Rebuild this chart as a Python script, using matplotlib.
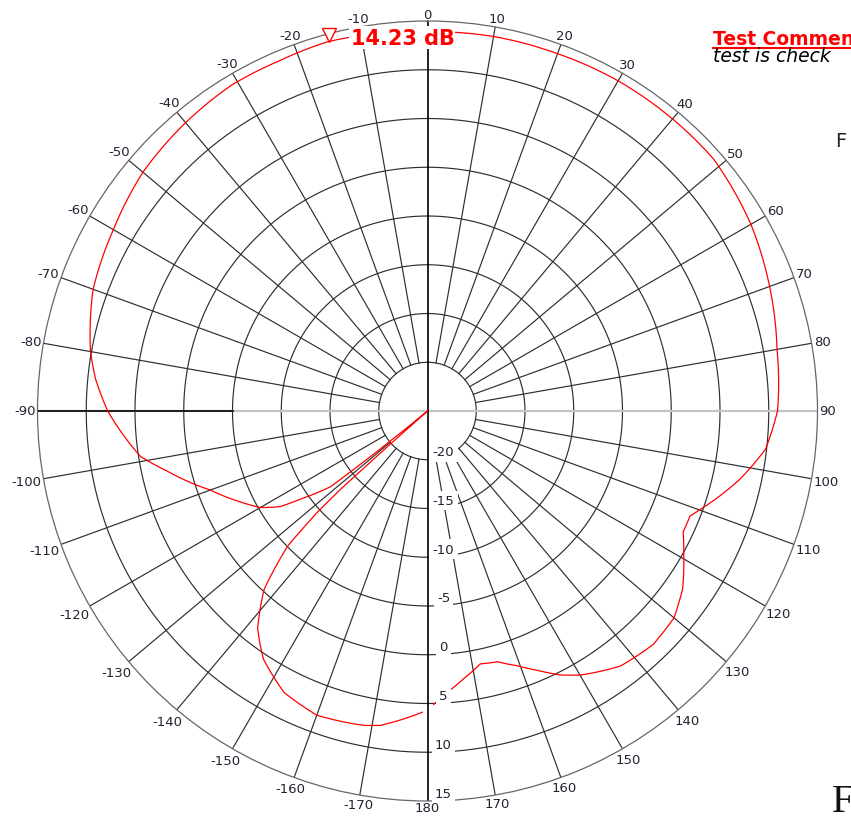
import numpy as np
import matplotlib
matplotlib.use("Agg")
import matplotlib.pyplot as plt
from matplotlib.transforms import offset_copy
from matplotlib.lines import Line2D

# ---------------- data ----------------
angles_deg = [-179, -171.5, -168.5, -160, -153, -146.5, -142, -137.5, -134, -132.6, -132,
              -131.5, -129.5, -128, -124.7, -123, -120, -116, -110, -103, -99, -93, -90,
              -84.5, -80, -70, -60, -50, -40, -31, -23, -15, -10, 0, 10, 20, 30,
              41.6, 48.6, 60, 70.4, 80, 90, 96.4, 102.3, 109.7, 111.8, 115.3, 119.5, 124.9,
              130, 136, 142.9, 149.9, 153.3, 157, 160.6, 164.4, 168.2, 172.3, 175.9, 178.8]
gain_db = [5.9, 7.6, 7.9, 8.2, 7.4, 5.5, 3.3, -0.2, -5.1, -9.7, -13.0,
           -30.0, -30.0, -12.4, -9.1, -7.0, -5.2, -3.7, -1.3, 2.4, 4.8, 6.8, 7.8,
           9.2, 10.1, 11.5, 12.2, 13.1, 13.6, 14.0, 14.0, 14.23, 14.1, 13.9, 14.0, 14.0, 14.1,
           14.1, 14.1, 13.3, 12.3, 11.4, 10.9, 9.9, 7.8, 4.8, 4.0, 4.0, 5.2, 6.9,
           8.0, 8.3, 7.8, 6.3, 5.3, 3.9, 2.7, 1.7, 1.5, 2.7, 3.9, 5.1]

angle_labels = list(range(-170, 0, 10)) + list(range(0, 181, 10))
radial_ticks = [-20, -15, -10, -5, 0, 5, 10, 15]
r_min, r_max = -25, 15
spoke_angles = list(range(0, 360, 10))

# ---------------- figure ----------------
W, H = 851, 820
fig = plt.figure(figsize=(W / 100, H / 100), dpi=100)
cx, cy, R = 427.5, 412, 390
ax = fig.add_axes([(cx - R) / W, (H - cy - R) / H, 2 * R / W, 2 * R / H], projection="polar")
ax.set_theta_zero_location("N")
ax.set_theta_direction(-1)
ax.set_ylim(r_min, r_max)
ax.grid(False)
ax.set_xticks([])
ax.set_yticks([])
ax.spines["polar"].set_color("#666666")
ax.spines["polar"].set_linewidth(0.9)

grid_c = "#2e2e2e"
th_full = np.linspace(0, 2 * np.pi, 721)
for rt in radial_ticks[:-1]:
    ax.plot(th_full, np.full_like(th_full, rt), color=grid_c, lw=0.85, zorder=1)

inner = radial_ticks[0]
for a in spoke_angles:
    if a in (0, 90, 180, 270):
        continue
    t = np.deg2rad(a)
    ax.plot([t, t], [inner, r_max], color=grid_c, lw=0.85, zorder=1)

# horizontal axis (gray), left part black from -5 outwards
for a in (90, 270):
    t = np.deg2rad(a)
    ax.plot([t, t], [r_min, r_max], color="#c4c4c4", lw=1.6, zorder=1.2)
ax.plot([np.deg2rad(270)] * 2, [-5, r_max], color="black", lw=1.2, zorder=1.3)
# vertical axis black through centre
for a in (0, 180):
    t = np.deg2rad(a)
    ax.plot([t, t], [r_min, r_max], color="black", lw=1.2, zorder=1.3)

# trace (segments drawn as arcs in polar space)
th = np.deg2rad(angles_deg)
rr = np.clip(np.array(gain_db), r_min, None)
trace, = ax.plot(th, rr, color="#ff0000", lw=0.9, zorder=3)
trace.get_path()._interpolation_steps = 24

# peak marker
ip = int(np.argmax(gain_db))
pk_t, pk_r = np.deg2rad(angles_deg[ip]), gain_db[ip]
trans = offset_copy(ax.transData, fig=fig, x=0, y=7, units="dots")
ax.plot([pk_t], [pk_r], marker="v", ms=10, mfc="white", mec="#ff0000", mew=1.0,
        transform=trans, clip_on=False, zorder=6)
ax.annotate(f"{pk_r:.2f} dB", xy=(pk_t, pk_r), xytext=(22, 4), textcoords="offset pixels",
            ha="left", va="center", fontsize=15, fontweight="bold", color="#ff0000",
            annotation_clip=False, zorder=6,
            bbox=dict(boxstyle="square,pad=0.05", fc="white", ec="none"))

lab_c = "#222233"
# angle labels
renderer = fig.canvas.get_renderer()
for a in angle_labels:
    t = np.deg2rad(a)
    txt = ax.annotate(str(a), xy=(t, r_max), xytext=(0, 0), textcoords="offset pixels",
                      ha="center", va="center", fontsize=9.5, color=lab_c,
                      annotation_clip=False, zorder=5)
    bb = txt.get_window_extent(renderer)
    ext = 0.5 * (bb.width * abs(np.sin(t)) + bb.height * 0.8 * abs(np.cos(t))) + 1.5
    txt.xyann = (ext * np.sin(t), ext * np.cos(t))

# radial labels along 180 deg
for rt in radial_ticks:
    ax.annotate(str(rt), xy=(np.pi, rt), xytext=(16, 8), textcoords="offset pixels",
                ha="center", va="center", fontsize=9.5, color=lab_c, zorder=5,
                annotation_clip=False,
                bbox=dict(boxstyle="square,pad=0.25", fc="white", ec="none"))

# side texts
fig.text(713 / W, 1 - 45 / H, "Test Comments", color="#ff0000", fontsize=13.5,
         fontweight="bold", ha="left", va="baseline")
fig.add_artist(Line2D([713 / W, 1.0], [1 - 48.5 / H] * 2, color="#ff0000", lw=1.5))
fig.text(713 / W, 1 - 62 / H, "test is check", color="black", fontsize=13.5,
         style="italic", ha="left", va="baseline")
fig.text(835 / W, 1 - 147 / H, "F", color="#222222", fontsize=14, ha="left", va="baseline")
fig.text(832 / W, 1 - 812 / H, "F", color="#111111", fontsize=29,
         family="Liberation Serif", ha="left", va="baseline")

fig.savefig("out.png", dpi=100)
